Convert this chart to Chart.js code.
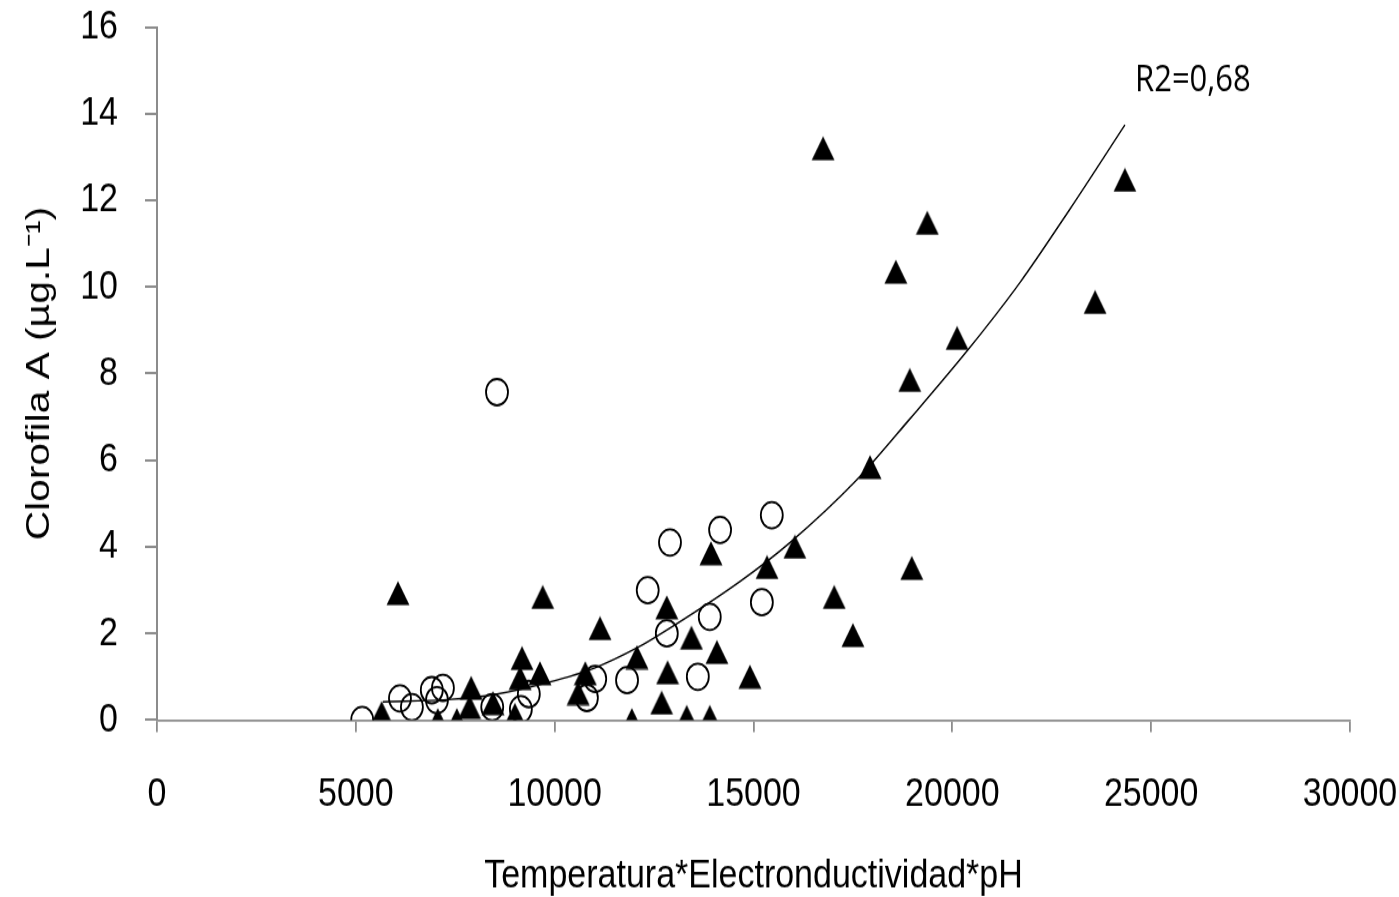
<!DOCTYPE html>
<html>
<head>
<meta charset="utf-8">
<script src="https://cdn.jsdelivr.net/npm/chart.js@4.4.0/dist/chart.umd.min.js"></script>
<style>
  html, body { margin: 0; padding: 0; background: #fff; overflow: hidden; }
  /* el original está estirado en vertical (~1.2x) */
  #chart { display: block; }
</style>
</head>
<body>
<canvas id="chart" width="1399" height="748" style="width:1399px;height:897px"></canvas>
<script>
// Triangulos (rellenos)
const triX = [5650, 6060, 7060, 7540, 7900, 7860, 8450, 9000, 9130, 9180, 9630, 9700,
  10590, 10770, 11140, 11940, 12070, 12690, 12820, 12840, 13320, 13440, 13900, 13930,
  14080, 14910, 15340, 16040, 16750, 17030, 17500, 17930, 18580, 18930, 18980, 19370,
  20120, 23590, 24340];
const triY = [0.16, 2.93, 0, 0, 0.74, 0.3, 0.39, 0.12, 0.97, 1.43, 1.08, 2.84,
  0.62, 1.08, 2.12, 0, 1.45, 0.4, 2.6, 1.1, 0.07, 1.9, 0.07, 3.85,
  1.57, 1.0, 3.53, 4.0, 13.2, 2.84, 1.96, 5.84, 10.35, 7.85, 3.51, 11.48,
  8.82, 9.65, 12.47];

// Circulos (vacios)
const circX = [5160, 6110, 6410, 6910, 7040, 7190, 8430, 8550, 9150, 9350, 10810,
  11020, 11820, 12340, 12820, 12900, 13600, 13900, 14160, 15210, 15460];
const circY = [0, 0.5, 0.3, 0.69, 0.46, 0.74, 0.3, 7.57, 0.25, 0.6, 0.51,
  0.95, 0.92, 3.0, 2.0, 4.1, 1.0, 2.38, 4.39, 2.72, 4.73];

// Curva de ajuste
const fitX = [5680, 7300, 8550, 9800, 11000, 12100, 12650, 14660, 15920, 17600, 18930,
  20440, 21700, 22960, 24340];
const fitY = [0.42, 0.47, 0.6, 0.86, 1.2, 1.68, 1.98, 3.2, 4.1, 5.55, 6.95,
  8.6, 10.1, 11.8, 13.74];

const xTicks = [0, 5000, 10000, 15000, 20000, 25000, 30000];
const yTicks = [0, 2, 4, 6, 8, 10, 12, 14, 16];
const r2Label = 'R2=0,68';

const pts = (xs, ys) => xs.map((x, i) => ({x: x, y: ys[i]}));

const axisFont = {family: "'Liberation Sans', Arial, sans-serif", size: 34};
const axisGray = '#8c8c8c';

// marcador triangulo centrado por su caja (como en Excel)
function makeTriangle(w, h) {
  const c = document.createElement('canvas');
  c.width = w;
  c.height = h;
  const g = c.getContext('2d');
  g.fillStyle = '#000';
  g.beginPath();
  g.moveTo(w / 2, 0.5);
  g.lineTo(w - 0.5, h - 0.5);
  g.lineTo(0.5, h - 0.5);
  g.closePath();
  g.fill();
  return c;
}
const triMarker = makeTriangle(24, 21);

// etiqueta R2
const r2Plugin = {
  id: 'r2',
  afterDatasetsDraw(chart) {
    const {ctx, scales} = chart;
    const px = scales.x.getPixelForValue(26050);
    const py = scales.y.getPixelForValue(14.75);
    ctx.save();
    ctx.font = "31px 'Open Sans', 'Noto Sans', sans-serif";
    ctx.fillStyle = '#000';
    ctx.textAlign = 'center';
    ctx.textBaseline = 'middle';
    ctx.fillText(r2Label, px, py);
    ctx.restore();
  }
};

new Chart(document.getElementById('chart').getContext('2d'), {
  type: 'scatter',
  data: {
    datasets: [
      {
        label: 'ajuste',
        type: 'line',
        data: pts(fitX, fitY),
        borderColor: '#000',
        borderWidth: 1.4,
        pointRadius: 0,
        fill: false,
        cubicInterpolationMode: 'monotone'
      },
      {
        label: 'triangulos',
        data: pts(triX, triY),
        pointStyle: triMarker,
        pointRadius: 12,
        backgroundColor: '#000',
        borderColor: '#000'
      },
      {
        label: 'circulos',
        data: pts(circX, circY),
        pointStyle: 'circle',
        pointRadius: 11,
        backgroundColor: 'rgba(0,0,0,0)',
        borderColor: '#000',
        borderWidth: 1.8
      }
    ]
  },
  options: {
    responsive: false,
    animation: false,
    devicePixelRatio: 1,
    layout: {padding: {left: 0, top: 22.5, right: 49, bottom: 0}},
    plugins: {legend: {display: false}, tooltip: {enabled: false}},
    scales: {
      x: {
        type: 'linear',
        min: 0,
        max: 30000,
        afterBuildTicks: (s) => { s.ticks = xTicks.map(v => ({value: v})); },
        afterFit: (s) => { s.height = 147.6; s.paddingLeft = 0; s.paddingRight = 0; },
        ticks: {
          color: '#000',
          font: axisFont,
          padding: 32,
          maxRotation: 0,
          autoSkip: false,
          callback: (v) => String(v)
        },
        grid: {drawOnChartArea: false, color: axisGray, lineWidth: 1.8, tickLength: 10},
        border: {color: axisGray, width: 1.8},
        title: {
          display: true,
          text: 'Temperatura*Electronductividad*pH',
          color: '#000',
          font: {family: axisFont.family, size: 34, lineHeight: 1},
          padding: {bottom: 0, top: 0}
        }
      },
      y: {
        min: 0,
        max: 16,
        afterBuildTicks: (s) => { s.ticks = yTicks.map(v => ({value: v})); },
        afterFit: (s) => { s.width = 157; s.paddingTop = 0; s.paddingBottom = 0; },
        ticks: {
          color: '#000',
          font: axisFont,
          padding: 27,
          autoSkip: false,
          callback: (v) => String(v)
        },
        grid: {drawOnChartArea: false, color: axisGray, lineWidth: 2, tickLength: 12},
        border: {color: axisGray, width: 2},
        title: {
          display: true,
          text: 'Clorofila A (µg.L⁻¹)',
          color: '#000',
          font: axisFont,
          padding: {top: 19, bottom: 0}
        }
      }
    }
  },
  plugins: [r2Plugin]
});
</script>
</body>
</html>
